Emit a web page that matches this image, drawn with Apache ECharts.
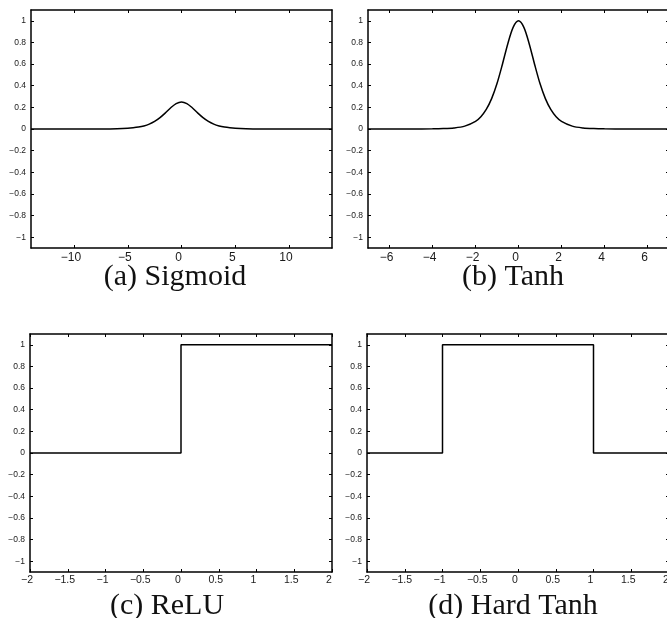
<!DOCTYPE html>
<html>
<head>
<meta charset="utf-8">
<script src="https://cdn.jsdelivr.net/npm/echarts@6/dist/echarts.min.js"></script>
<style>
html,body{margin:0;padding:0;background:#fff;}
#chart{width:667px;height:618px;}
</style>
</head>
<body>
<div id="chart"></div>
<script>
// ---- data ----
const captions = ['(a) Sigmoid', '(b) Tanh', '(c) ReLU', '(d) Hard Tanh'];

const yTicks = [-1, -0.8, -0.6, -0.4, -0.2, 0, 0.2, 0.4, 0.6, 0.8, 1];
const xTicksA = [-10, -5, 0, 5, 10];
const xTicksB = [-6, -4, -2, 0, 2, 4, 6];
const xTicksC = [-2, -1.5, -1, -0.5, 0, 0.5, 1, 1.5, 2];
const xTicksD = [-2, -1.5, -1, -0.5, 0, 0.5, 1, 1.5, 2];

const sigmoidX = [-14, -12, -10, -8, -7, -6, -5, -4.5, -4, -3.5, -3, -2.5, -2, -1.5, -1, -0.5, 0, 0.5, 1, 1.5, 2, 2.5, 3, 3.5, 4, 4.5, 5, 6, 7, 8, 10, 12, 14];
const sigmoidY = [0, 0, 0.00005, 0.0003, 0.0009, 0.0025, 0.0066, 0.0109, 0.0177, 0.0285, 0.0452, 0.0701, 0.105, 0.1491, 0.1966, 0.235, 0.25, 0.235, 0.1966, 0.1491, 0.105, 0.0701, 0.0452, 0.0285, 0.0177, 0.0109, 0.0066, 0.0025, 0.0009, 0.0003, 0.00005, 0, 0];

const tanhX = [-7, -6, -5, -4, -3.5, -3, -2.5, -2, -1.75, -1.5, -1.25, -1, -0.75, -0.5, -0.25, 0, 0.25, 0.5, 0.75, 1, 1.25, 1.5, 1.75, 2, 2.5, 3, 3.5, 4, 5, 6, 7];
const tanhY = [0, 0, 0.0002, 0.0013, 0.0036, 0.0099, 0.0266, 0.0707, 0.1137, 0.1807, 0.2805, 0.42, 0.5967, 0.7864, 0.94, 1, 0.94, 0.7864, 0.5967, 0.42, 0.2805, 0.1807, 0.1137, 0.0707, 0.0266, 0.0099, 0.0036, 0.0013, 0.0002, 0, 0];

const reluX = [-2, 0, 0, 2];
const reluY = [0, 0, 1, 1];

const hardTanhX = [-2, -1, -1, 1, 1, 2];
const hardTanhY = [0, 0, 1, 1, 0, 0];

// ---- layout ----
const panels = [
  { x: sigmoidX, y: sigmoidY, xmin: -14, xmax: 14, xt: xTicksA, smooth: 0.3, left: 31, top: 10, width: 301, xFont: 12, xMargin: 4, cap: [175, 277] },
  { x: tanhX, y: tanhY, xmin: -7, xmax: 7, xt: xTicksB, smooth: 0.3, left: 368, top: 10, width: 301, xFont: 12, xMargin: 4, cap: [513, 277] },
  { x: reluX, y: reluY, xmin: -2, xmax: 2, xt: xTicksC, smooth: false, left: 30, top: 334, width: 302, xFont: 10.5, xMargin: 3, cap: [167, 606] },
  { x: hardTanhX, y: hardTanhY, xmin: -2, xmax: 2, xt: xTicksD, smooth: false, left: 367, top: 334, width: 302, xFont: 10.5, xMargin: 3, cap: [513, 606] }
];

const fmt = v => String(v).replace('-', '\u2212');
const lineCol = '#000';
const textCol = '#1a1a1a';

const grid = [], xAxis = [], yAxis = [], series = [], graphic = [];
panels.forEach((p, i) => {
  grid.push({ left: p.left, top: p.top, width: p.width, height: 238, outerBoundsMode: 'none', containLabel: false });
  const common = {
    type: 'value', gridIndex: i, splitLine: { show: false },
    axisLine: { show: true, onZero: false, lineStyle: { color: lineCol, width: 1.5 } }
  };
  xAxis.push(Object.assign({}, common, {
    position: 'bottom', min: p.xmin, max: p.xmax,
    axisTick: { show: true, inside: true, length: 3, customValues: p.xt, lineStyle: { color: lineCol } },
    axisLabel: { show: true, customValues: p.xt, formatter: fmt, fontSize: p.xFont, margin: p.xMargin,
      color: textCol, fontFamily: 'Liberation Sans', padding: [0, 6, 0, 0] }
  }));
  xAxis.push(Object.assign({}, common, {
    position: 'top', min: p.xmin, max: p.xmax,
    axisTick: { show: true, inside: true, length: 3, customValues: p.xt, lineStyle: { color: lineCol } },
    axisLabel: { show: false }
  }));
  yAxis.push(Object.assign({}, common, {
    position: 'left', min: -1.1, max: 1.1,
    axisTick: { show: true, inside: true, length: 3, customValues: yTicks, lineStyle: { color: lineCol } },
    axisLabel: { show: true, customValues: yTicks, formatter: fmt, fontSize: 8.5, margin: 5,
      color: textCol, fontFamily: 'Liberation Sans' }
  }));
  yAxis.push(Object.assign({}, common, {
    position: 'right', min: -1.1, max: 1.1,
    axisTick: { show: true, inside: true, length: 3, customValues: yTicks, lineStyle: { color: lineCol } },
    axisLabel: { show: false }
  }));
  series.push({
    type: 'line', xAxisIndex: 2 * i, yAxisIndex: 2 * i,
    data: p.x.map((xv, k) => [xv, p.y[k]]),
    showSymbol: false, smooth: p.smooth, animation: false,
    lineStyle: { color: lineCol, width: 1.5 }
  });
  graphic.push({
    type: 'text', x: p.cap[0], y: p.cap[1],
    style: { text: captions[i], font: '30px "Liberation Serif"', fill: '#111',
      textAlign: 'center', textVerticalAlign: 'middle' }
  });
});

const chart = echarts.init(document.getElementById('chart'), null, { renderer: 'canvas' });
chart.setOption({ animation: false, grid, xAxis, yAxis, series, graphic });
</script>
</body>
</html>
